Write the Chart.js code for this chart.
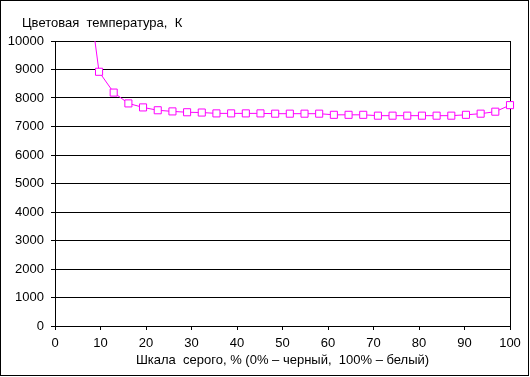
<!DOCTYPE html>
<html>
<head>
<meta charset="utf-8">
<script src="https://cdn.jsdelivr.net/npm/chart.js@4"></script>
<style>
  html, body { margin: 0; padding: 0; background: #fff; }
  #wrap { width: 530px; height: 377px; position: relative; }
</style>
</head>
<body>
<div id="wrap"><canvas id="chart" width="530" height="377"></canvas></div>
<script>
const grayPercent = [6.45, 9.68, 12.9, 16.13, 19.35, 22.58, 25.81, 29.03, 32.26, 35.48,
    38.71, 41.94, 45.16, 48.39, 51.61, 54.84, 58.06, 61.29, 64.52, 67.74,
    70.97, 74.19, 77.42, 80.65, 83.87, 87.1, 90.32, 93.55, 96.77, 100];
const colorTemp = [12800, 8920, 8190, 7810, 7670, 7570, 7530, 7500, 7490, 7460,
    7460, 7460, 7460, 7450, 7450, 7450, 7450, 7410, 7410, 7410,
    7380, 7380, 7380, 7380, 7380, 7380, 7410, 7450, 7520, 7750];
const yTitle = 'Цветовая  температура,  К';
const xTitle = 'Шкала  серого, % (0% – черный,  100% – белый)';

const font = { family: '"Liberation Sans", Arial, sans-serif', size: 13 };

// outer frame and the y-axis caption above the plot
const frame = {
    id: 'frame',
    afterDraw(chart) {
        const ctx = chart.ctx;
        const area = chart.chartArea;
        ctx.save();
        ctx.strokeStyle = '#000';
        ctx.lineWidth = 1;
        ctx.strokeRect(0.5, 0.5, 528, 375);
        ctx.fillStyle = '#000';
        ctx.font = '13px "Liberation Sans", Arial, sans-serif';
        ctx.textBaseline = 'middle';
        ctx.fillText(yTitle, area.left - 33, area.top - 18);
        ctx.restore();
    }
};

new Chart(document.getElementById('chart'), {
    type: 'line',
    data: {
        datasets: [{
            data: grayPercent.map((x, i) => ({ x: x, y: colorTemp[i] })),
            borderColor: '#ff00ff',
            borderWidth: 1,
            pointStyle: 'rect',
            pointRadius: 5,
            pointBorderWidth: 1,
            pointBackgroundColor: '#fff',
            pointBorderColor: '#ff00ff',
            tension: 0,
            clip: { left: 0, top: 0, right: 8, bottom: 0 }
        }]
    },
    options: {
        responsive: false,
        animation: false,
        layout: { padding: { top: 41, right: 20, left: 0, bottom: 0 } },
        plugins: { legend: { display: false }, tooltip: { enabled: false } },
        scales: {
            x: {
                type: 'linear',
                min: 0,
                max: 100,
                ticks: { stepSize: 10, color: '#000', font: font, padding: 6, maxRotation: 0 },
                grid: {
                    color: c => c.tick && c.tick.value === 100 ? '#000' : 'rgba(0,0,0,0)',
                    tickColor: '#000',
                    tickLength: 4
                },
                border: { color: '#000' },
                title: { display: true, text: xTitle, color: '#000', font: font, padding: { top: 0, bottom: 9 } },
                afterFit: s => { s.height = 51; }
            },
            y: {
                min: 0,
                max: 10000,
                ticks: { stepSize: 1000, color: '#000', font: font, padding: 7, callback: v => String(v) },
                grid: { color: '#000', tickColor: '#000', tickLength: 4 },
                border: { color: '#000' },
                afterFit: s => { s.width = 55; }
            }
        }
    },
    plugins: [frame]
});
</script>
</body>
</html>
